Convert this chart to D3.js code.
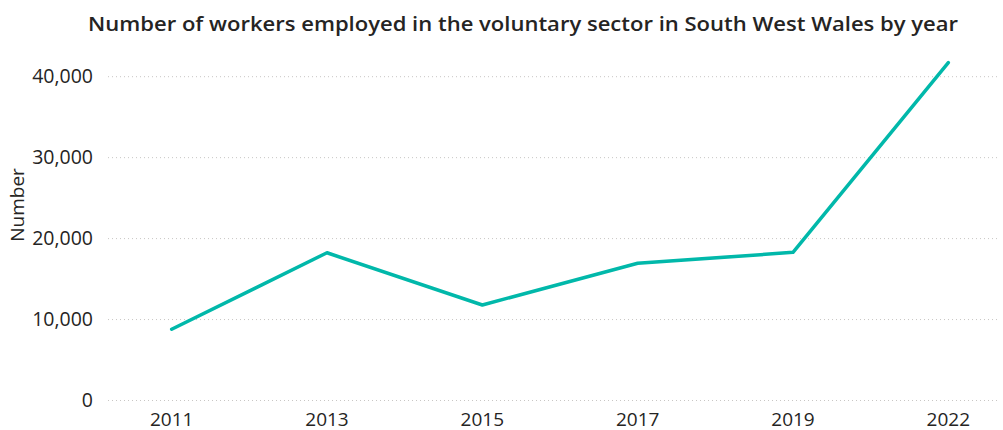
<!DOCTYPE html>
<html><head><meta charset="utf-8">
<script src="https://cdn.jsdelivr.net/npm/d3@7"></script>
<style>body{margin:0;background:#fff;} svg{display:block;}</style>
</head><body>
<svg id="chart" width="1003" height="430"></svg>
<script>
const years = ["2011","2013","2015","2017","2019","2022"];
const workers = [8800, 18250, 11800, 16950, 18300, 41750];
const yTicks = [0, 10000, 20000, 30000, 40000];
const title = "Number of workers employed in the voluntary sector in South West Wales by year";
const yTitle = "Number";

const svg = d3.select("#chart");
const font = "'Open Sans', 'Noto Sans', sans-serif";
const x = d3.scaleBand().domain(years).range([94, 1026]).paddingInner(0).paddingOuter(0);
const y = d3.scaleLinear().domain([0, 40000]).range([400.5, 76.7]);
const gridX0 = 108, gridX1 = 1000;

svg.append("text").attr("x", 523).attr("y", 31).attr("text-anchor", "middle")
  .attr("font-family", font).attr("font-size", 19).attr("font-weight", 600).attr("fill", "#252423")
  .attr("textLength", 870).attr("lengthAdjust", "spacingAndGlyphs")
  .text(title);

const yAxis = d3.axisLeft(y).tickValues(yTicks).tickFormat(d3.format(",")).tickSize(0).tickPadding(0);
const gy = svg.append("g").attr("transform", `translate(93,0)`).call(yAxis);
gy.select(".domain").remove();
gy.selectAll("text").attr("font-family", font).attr("font-size", 19.5).attr("fill", "#252423");

svg.append("g").selectAll("line").data(yTicks).join("line")
  .attr("x1", gridX0).attr("x2", gridX1).attr("y1", d => y(d)).attr("y2", d => y(d))
  .attr("stroke", "#c8c6c4").attr("stroke-width", 1).attr("stroke-dasharray", "1,3");

const xAxis = d3.axisBottom(x).tickSize(0).tickPadding(0);
const gx = svg.append("g").attr("transform", `translate(0,412)`).call(xAxis);
gx.select(".domain").remove();
gx.selectAll("text").attr("font-family", font).attr("font-size", 19).attr("fill", "#252423");

svg.append("text").attr("transform", "translate(24,205) rotate(-90)").attr("text-anchor", "middle")
  .attr("font-family", font).attr("font-size", 19).attr("fill", "#252423").text(yTitle);

const line = d3.line().x((d, i) => x(years[i]) + x.bandwidth() / 2).y(d => y(d));
svg.append("path").datum(workers).attr("d", line).attr("fill", "none")
  .attr("stroke", "#01b8aa").attr("stroke-width", 3.5).attr("stroke-linejoin", "round").attr("stroke-linecap", "round");
</script>
</body></html>
